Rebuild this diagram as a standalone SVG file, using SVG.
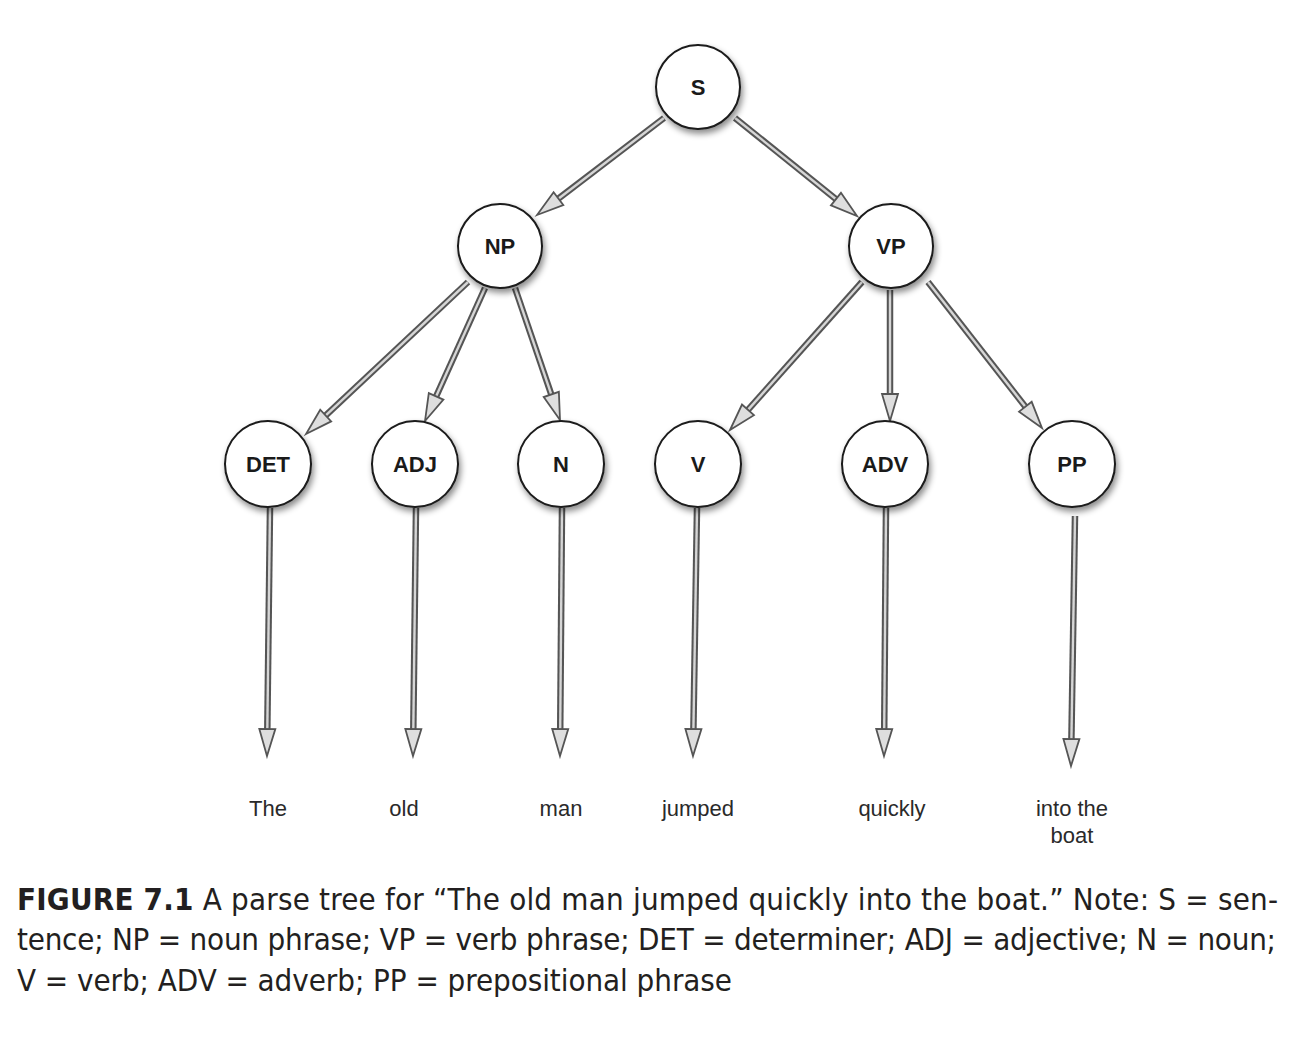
<svg xmlns="http://www.w3.org/2000/svg" xmlns:xlink="http://www.w3.org/1999/xlink" width="1301" height="1051" viewBox="0 0 1301 1051">
<style>
.node circle{fill:#fff;stroke:#1a1a1a;stroke-width:2;filter:url(#sh)}
.node text{font-family:"Liberation Sans",Arial,sans-serif;font-weight:bold;font-size:22px;fill:#1a1a1a;text-anchor:middle}
.so{fill:none;stroke:#555;stroke-width:6.5}
.si{fill:none;stroke:#d6d6d6;stroke-width:2.4}
.hd{fill:#dedede;stroke:#555;stroke-width:1.8;stroke-linejoin:miter}
.word{font-family:"Liberation Sans",Arial,sans-serif;font-size:22px;fill:#2a2a2a;text-anchor:middle}
.cap{font-family:"Liberation Sans Narrow","DejaVu Sans Condensed","Liberation Sans",sans-serif;font-size:31px;fill:#231f20}
</style>
<defs>
<filter id="sh" x="-30%" y="-30%" width="170%" height="170%">
<feDropShadow dx="2" dy="4" stdDeviation="3" flood-color="#000" flood-opacity="0.45"/>
</filter>
<polygon id="head" class="hd" points="0,0 -27,-8 -27,8"/>
</defs>
<rect width="1301" height="1051" fill="#fff"/>
<g id="connectors">
<g><path class="so" d="M664,118 L557.7,199.2"/><path class="si" d="M664,118 L557.7,199.2"/><use xlink:href="#head" transform="translate(537,215) rotate(142.63)"/></g>
<g><path class="so" d="M735,118 L836.7,199.7"/><path class="si" d="M735,118 L836.7,199.7"/><use xlink:href="#head" transform="translate(857,216) rotate(38.77)"/></g>
<g><path class="so" d="M468,282 L325,416.2"/><path class="si" d="M468,282 L325,416.2"/><use xlink:href="#head" transform="translate(306,434) rotate(136.83)"/></g>
<g><path class="so" d="M485,288 L435.7,397.3"/><path class="si" d="M485,288 L435.7,397.3"/><use xlink:href="#head" transform="translate(425,421) rotate(114.28)"/></g>
<g><path class="so" d="M515,288 L551.6,395.4"/><path class="si" d="M515,288 L551.6,395.4"/><use xlink:href="#head" transform="translate(560,420) rotate(71.17)"/></g>
<g><path class="so" d="M862,282 L747.3,410.6"/><path class="si" d="M862,282 L747.3,410.6"/><use xlink:href="#head" transform="translate(730,430) rotate(131.73)"/></g>
<g><path class="so" d="M890,290 L890,395"/><path class="si" d="M890,290 L890,395"/><use xlink:href="#head" transform="translate(890,421) rotate(90)"/></g>
<g><path class="so" d="M928,282 L1026,407.5"/><path class="si" d="M928,282 L1026,407.5"/><use xlink:href="#head" transform="translate(1042,428) rotate(52.01)"/></g>
<g><path class="so" d="M270,508 L267.3,730"/><path class="si" d="M270,508 L267.3,730"/><use xlink:href="#head" transform="translate(267,756) rotate(90.7)"/></g>
<g><path class="so" d="M416,508 L413.3,730"/><path class="si" d="M416,508 L413.3,730"/><use xlink:href="#head" transform="translate(413,756) rotate(90.7)"/></g>
<g><path class="so" d="M562,508 L560.2,730"/><path class="si" d="M562,508 L560.2,730"/><use xlink:href="#head" transform="translate(560,756) rotate(90.46)"/></g>
<g><path class="so" d="M697,508 L693.4,730"/><path class="si" d="M697,508 L693.4,730"/><use xlink:href="#head" transform="translate(693,756) rotate(90.9)"/></g>
<g><path class="so" d="M886,508 L884.2,730"/><path class="si" d="M886,508 L884.2,730"/><use xlink:href="#head" transform="translate(884,756) rotate(90.46)"/></g>
<g><path class="so" d="M1075,516 L1071.4,740"/><path class="si" d="M1075,516 L1071.4,740"/><use xlink:href="#head" transform="translate(1071,766) rotate(90.9)"/></g>
</g>
<g id="S" class="node"><circle cx="698" cy="87" r="42"/><text x="698" y="95">S</text></g>
<g id="NP" class="node"><circle cx="500" cy="246" r="42"/><text x="500" y="254">NP</text></g>
<g id="VP" class="node"><circle cx="891" cy="246" r="42"/><text x="891" y="254">VP</text></g>
<g id="DET" class="node"><circle cx="268" cy="464" r="43"/><text x="268" y="472">DET</text></g>
<g id="ADJ" class="node"><circle cx="415" cy="464" r="43"/><text x="415" y="472">ADJ</text></g>
<g id="N" class="node"><circle cx="561" cy="464" r="43"/><text x="561" y="472">N</text></g>
<g id="V" class="node"><circle cx="698" cy="464" r="43"/><text x="698" y="472">V</text></g>
<g id="ADV" class="node"><circle cx="885" cy="464" r="43"/><text x="885" y="472">ADV</text></g>
<g id="PP" class="node"><circle cx="1072" cy="464" r="43"/><text x="1072" y="472">PP</text></g>
<g id="words">
<text class="word" x="268" y="816">The</text>
<text class="word" x="404" y="816">old</text>
<text class="word" x="561" y="816">man</text>
<text class="word" x="698" y="816">jumped</text>
<text class="word" x="892" y="816">quickly</text>
<text class="word" x="1072" y="816">into the</text>
<text class="word" x="1072" y="843">boat</text>
</g>
<g id="caption">
<text class="cap" x="17" y="910" textLength="1261" lengthAdjust="spacing"><tspan font-weight="bold">FIGURE 7.1</tspan>  A parse tree for “The old man jumped quickly into the boat.” Note: S = sen-</text>
<text class="cap" x="17" y="950" textLength="1259" lengthAdjust="spacing">tence; NP = noun phrase; VP = verb phrase; DET = determiner; ADJ = adjective; N = noun;</text>
<text class="cap" x="17" y="991" textLength="715" lengthAdjust="spacing">V = verb; ADV = adverb; PP = prepositional phrase</text>
</g>
</svg>
